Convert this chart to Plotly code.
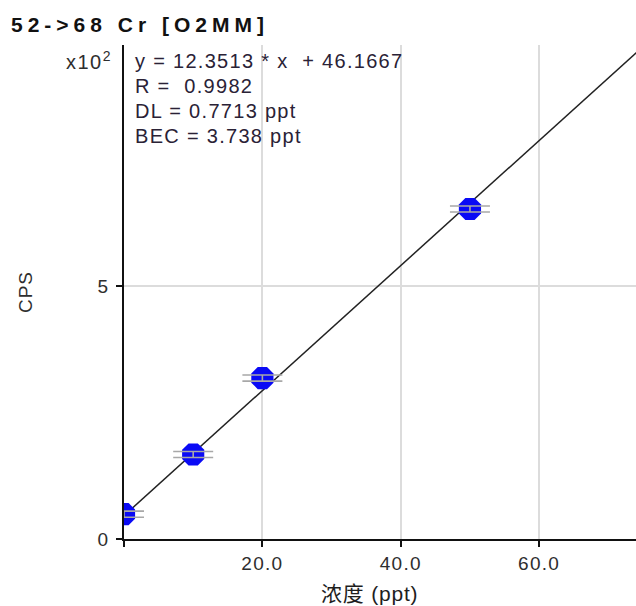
import plotly.graph_objects as go

# ---- data ----
conc = [0, 10, 20, 50]            # 浓度 (ppt)
cps = [49, 167, 318, 652]         # CPS
err = [6, 6, 6, 6]                # small error bars (CPS)
slope = 12.3513
intercept = 46.1667
fit_x = [0, 80]
fit_y = [intercept + slope * v for v in fit_x]

x_ticks = [20, 40, 60]
x_ticktext = ["20.0", "40.0", "60.0"]
y_ticks = [0, 500]
y_ticktext = ["0", "5"]

# ---- plot area geometry (pixels) ----
W, H = 636, 606
L, R, T, B = 124, 636, 45, 539


def px(xp):
    return (xp - L) / (R - L)


def py(yp):
    return (B - yp) / (B - T)


def ls(txt, s):
    return f'<span style="letter-spacing:{s}px">{txt}</span>'


fig = go.Figure()

fig.add_trace(go.Scatter(
    x=fit_x, y=fit_y, mode="lines",
    line=dict(color="#222222", width=1.5),
    hoverinfo="skip", showlegend=False,
))
fig.add_trace(go.Scatter(
    x=conc, y=cps, mode="markers",
    marker=dict(symbol="octagon", size=24, color="#0a0af5",
                line=dict(width=0)),
    showlegend=False,
))
# error bars drawn on top of markers
fig.add_trace(go.Scatter(
    x=conc, y=cps, mode="markers",
    marker=dict(size=1, opacity=0),
    error_y=dict(type="data", array=err, visible=True,
                 color="#a8a8a8", thickness=1.6, width=20),
    showlegend=False, hoverinfo="skip",
))

tick_font = dict(family="Liberation Sans, Arial, sans-serif", size=19, color="#2e2e2e")
txt_font = dict(family="Liberation Sans, Arial, sans-serif", size=20, color="#2a2236")

fig.update_layout(
    width=W, height=H,
    margin=dict(l=L, r=W - R, t=T, b=H - B),
    paper_bgcolor="white", plot_bgcolor="white",
    showlegend=False,
    title=dict(text="<b>" + ls("52->68 Cr [O2MM]", 5) + "</b>",
               xref="container", yref="container",
               x=11 / W, y=1 - 25 / H, xanchor="left", yanchor="middle",
               font=dict(family="Liberation Sans, Arial, sans-serif", size=21, color="#111111")),
    xaxis=dict(
        range=[0, 74], tickmode="array", tickvals=x_ticks,
        ticktext=[ls(t, 1.3) for t in x_ticktext],
        showgrid=True, gridcolor="#dcdcdc", gridwidth=1.5,
        showline=True, linecolor="#111111", linewidth=2,
        ticks="outside", ticklen=6, tickwidth=2, tickcolor="#111111",
        minor=dict(tickmode="array", tickvals=[0], ticks="outside", ticklen=6,
                   tickwidth=2, tickcolor="#111111", showgrid=False),
        zeroline=False, tickfont=tick_font, automargin=False,
    ),
    yaxis=dict(
        range=[0, 976], tickmode="array", tickvals=y_ticks,
        ticktext=y_ticktext, ticklabelstandoff=4,
        showgrid=True, gridcolor="#dcdcdc", gridwidth=1.5,
        showline=True, linecolor="#111111", linewidth=2,
        ticks="outside", ticklen=6, tickwidth=2, tickcolor="#111111",
        zeroline=False, tickfont=tick_font, automargin=False,
        title=dict(text=ls("CPS", 1), standoff=60, font=tick_font),
    ),
)

ann = []
ann.append(dict(text=ls("x10", 1.5) + "<sup>2</sup>", x=px(113), y=py(60), xanchor="right", yanchor="middle",
                font=dict(family="Liberation Sans, Arial, sans-serif", size=20, color="#2e2e2e")))
ann.append(dict(text=ls("浓度 (ppt)", 0.8), x=px(369), y=py(593), xanchor="center", yanchor="middle",
                font=dict(family="Liberation Sans, Noto Sans CJK SC, sans-serif", size=21, color="#1e1e1e")))
lines = ["y = 12.3513 * x  + 46.1667", "R =  0.9982", "DL = 0.7713 ppt", "BEC = 3.738 ppt"]
ys = [61, 86, 111, 136]
for t, yy in zip(lines, ys):
    ann.append(dict(text=ls(t.replace("  ", "\u00a0 "), 1.3), x=px(133), y=py(yy),
                    xanchor="left", yanchor="middle", font=txt_font))
for a in ann:
    a.update(xref="paper", yref="paper", showarrow=False)
fig.update_layout(annotations=ann)

fig.write_html("out.html", config={"displayModeBar": False},
               post_script="document.body.style.margin='0';document.body.style.padding='0';")
